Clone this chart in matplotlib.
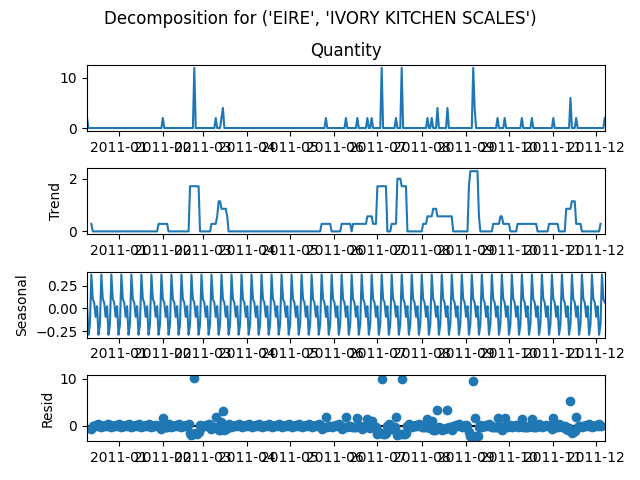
import numpy as np
import pandas as pd
import matplotlib
matplotlib.use("Agg")
import matplotlib.pyplot as plt

# daily quantity sold, zero on days not listed
start_date = "2010-12-10"
end_date = "2011-12-07"
sale_dates = ["2010-12-10", "2011-02-01", "2011-02-23", "2011-03-10", "2011-03-14",
              "2011-03-15", "2011-05-26", "2011-06-09", "2011-06-17", "2011-06-24",
              "2011-06-27", "2011-07-04", "2011-07-14", "2011-07-18", "2011-08-05",
              "2011-08-08", "2011-08-12", "2011-08-19", "2011-09-06", "2011-09-07",
              "2011-09-23", "2011-09-28", "2011-10-10", "2011-10-17", "2011-11-01",
              "2011-11-13", "2011-11-17", "2011-12-07"]
sale_qty = [2, 2, 12, 2, 2,
            4, 2, 2, 2, 2,
            2, 12, 2, 12, 2,
            2, 4, 4, 12, 4,
            2, 2, 2, 2, 2,
            6, 2, 2]
period = 7

idx = pd.date_range(start_date, end_date, freq="D")
observed = pd.Series(0.0, index=idx, name="Quantity")
observed[pd.to_datetime(sale_dates)] = sale_qty

# additive decomposition (centered moving average, weekly season)
trend = observed.rolling(period, center=True).mean()
detrended = observed - trend
pos = np.arange(len(observed)) % period
avg = np.array([np.nanmean(detrended.values[pos == i]) for i in range(period)])
avg = avg - avg.mean()
seasonal = pd.Series(avg[pos], index=idx)
resid = observed - trend - seasonal

fig, axs = plt.subplots(4, 1, figsize=(6.4, 4.8))
xlim = (idx[0], idx[-1])

axs[0].plot(observed)
axs[0].set_title("Quantity")
axs[1].plot(trend)
axs[1].set_ylabel("Trend")
axs[2].plot(seasonal)
axs[2].set_ylabel("Seasonal")
axs[3].plot(resid, marker="o", linestyle="none")
axs[3].plot(xlim, (0, 0), color="#000000", zorder=-3)
axs[3].set_ylabel("Resid")
for ax in axs:
    ax.set_xlim(xlim)

fig.subplots_adjust(left=0.136, right=0.945, bottom=0.081, top=0.865, hspace=0.56)
fig.suptitle("Decomposition for ('EIRE', 'IVORY KITCHEN SCALES')")
fig.savefig("out.png", dpi=100)
